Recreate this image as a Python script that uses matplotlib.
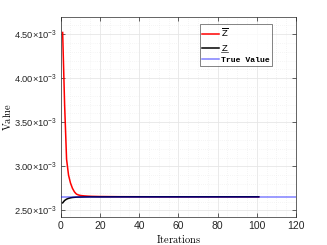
import matplotlib
matplotlib.use("Agg")
import matplotlib.pyplot as plt
from matplotlib.ticker import FixedLocator, MultipleLocator, FuncFormatter
from matplotlib.lines import Line2D
from matplotlib.transforms import IdentityTransform

# ---- data (values in units of 1e-3) ----
upper_iters = [1, 2, 3, 4, 5, 6, 7, 8, 9, 10, 12, 14, 16, 18, 20, 25, 30, 40, 50, 60, 70, 80, 90, 101]
upper_vals = [4.52, 3.70, 3.08, 2.90, 2.81, 2.75, 2.71, 2.685, 2.675, 2.669, 2.664, 2.661, 2.659,
              2.658, 2.657, 2.656, 2.655, 2.6545, 2.654, 2.654, 2.654, 2.654, 2.654, 2.654]
lower_iters = [1, 2, 3, 4, 5, 6, 7, 8, 10, 12, 15, 20, 30, 40, 50, 60, 70, 80, 90, 101]
lower_vals = [2.585, 2.612, 2.627, 2.636, 2.642, 2.646, 2.648, 2.650, 2.651, 2.652, 2.653, 2.653,
              2.654, 2.654, 2.654, 2.654, 2.654, 2.654, 2.654, 2.654]
true_iters = [0, 120]
true_vals = [2.654, 2.654]
xticks = [0, 20, 40, 60, 80, 100, 120]
yticks = [2.50, 3.00, 3.50, 4.00, 4.50]
labels = [r'$\overline{Z}$', r'$Z$', "True Value"]

scale = 1e-3

plt.rcParams['mathtext.default'] = 'regular'
plt.rcParams['font.family'] = ['Liberation Sans', 'DejaVu Sans']

fig = plt.figure(figsize=(3.27, 2.45), dpi=100)
ax = fig.add_axes([0.1856, 0.1163, 0.7194, 0.8123])

ax.plot(upper_iters, [v * scale for v in upper_vals], color='red', lw=1.1, zorder=3)
ax.plot(lower_iters, [v * scale for v in lower_vals], color='black', lw=1.1, zorder=4)
ax.plot(true_iters, [v * scale for v in true_vals], color='blue', alpha=0.5, lw=1.1, zorder=5)

ax.set_xlim(0, 120)
ax.set_ylim(2.43e-3, 4.69e-3)
ax.xaxis.set_major_locator(FixedLocator(xticks))
ax.yaxis.set_major_locator(FixedLocator([y * scale for y in yticks]))
ax.xaxis.set_minor_locator(MultipleLocator(5))
ax.yaxis.set_minor_locator(MultipleLocator(0.1e-3))
ax.yaxis.set_major_formatter(FuncFormatter(lambda v, p: '%.2f×10$^{-3}$' % (v / scale)))

ax.grid(True, which='major', color='#e6e6e6', lw=0.6, zorder=0)
ax.grid(True, which='minor', color='#ececec', lw=0.5, ls=(0, (1, 2)), zorder=0)
ax.set_axisbelow(True)

ax.tick_params(which='both', direction='in', top=True, right=True, colors='#262626', width=0.5)
ax.tick_params(axis='x', labelsize=7.5)
ax.tick_params(axis='y', labelsize=6.7, pad=2.5)
ax.tick_params(which='major', length=3)
ax.tick_params(which='minor', length=0)
for s in ax.spines.values():
    s.set_color('#262626')
    s.set_linewidth(0.5)

ax.set_xlabel(r'$\mathrm{Iterations}$', math_fontfamily='cm', fontsize=7.5, labelpad=1)
ax.set_ylabel(r'$\mathrm{Value}$', math_fontfamily='cm', fontsize=7.5, labelpad=1)

handles = [Line2D([], [], color='red', lw=1.1),
           Line2D([], [], color='black', lw=1.1),
           Line2D([], [], color='blue', alpha=0.5, lw=1.1)]
leg = ax.legend(handles, labels, loc='upper right',
                bbox_to_anchor=(0.897, 0.966), fontsize=5.9, frameon=True, fancybox=False,
                edgecolor='#262626', handlelength=2.1, handletextpad=0.25, borderpad=0.25,
                labelspacing=0.45, borderaxespad=0)
leg.get_frame().set_linewidth(0.5)
texts = leg.get_texts()
for t in texts[:2]:
    t.set_math_fontfamily('cm')
    t.set_fontsize(6.8)
texts[2].set_fontfamily('Liberation Mono')
texts[2].set_fontweight('bold')

# underline for the lower-bound label
fig.canvas.draw()
r = fig.canvas.get_renderer()
bb = texts[1].get_window_extent(r)
fig.add_artist(Line2D([bb.x0 + 0.5, bb.x1 - 0.5], [bb.y0 + 0.8, bb.y0 + 0.8],
                      transform=IdentityTransform(), color='#262626', lw=0.5))

fig.savefig('out.png', dpi=100)
